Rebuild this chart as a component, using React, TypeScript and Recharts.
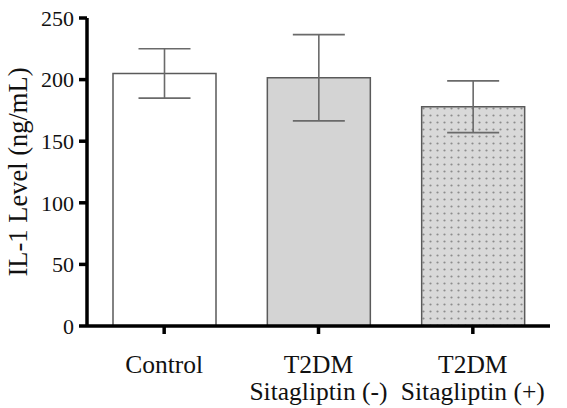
import React from 'react';
import { BarChart, Bar, XAxis, YAxis, ErrorBar, Cell, Label } from 'recharts';

const categories = ['Control', 'T2DM\nSitagliptin (-)', 'T2DM\nSitagliptin (+)'];
const means = [205, 201.5, 178];
const errors = [20, 35, 21];
const yTicks = [0, 50, 100, 150, 200, 250];
const yLabel = 'IL-1 Level (ng/mL)';
const fills = ['#ffffff', '#d4d4d4', 'url(#dots)'];

const data = categories.map((c, i) => ({ name: c, value: means[i], err: errors[i] }));

const FONT = "'Liberation Serif', 'Times New Roman', serif";

const XTick = (props: any) => {
  const { x, y, payload } = props;
  const lines = String(payload.value).split('\n');
  return (
    <text x={x} y={y} textAnchor="middle" style={{ fontFamily: FONT, fontSize: 25.5 }} fill="#111">
      {lines.map((l, i) => (
        <tspan key={i} x={x} dy={i === 0 ? 37 : 27}>{l}</tspan>
      ))}
    </text>
  );
};

const YTick = (props: any) => {
  const { x, y, payload } = props;
  return (
    <text x={x} y={y} textAnchor="end" dy="0.35em" style={{ fontFamily: FONT, fontSize: 22 }} fill="#111">
      {payload.value}
    </text>
  );
};

export default function App() {
  return (
    <div style={{ position: 'absolute', left: 0, top: 0, background: '#fff', fontFamily: FONT }}>
      <BarChart
        width={567}
        height={408}
        data={data}
        margin={{ top: 18, right: 17, bottom: 0, left: 0 }}
        barSize={103}
      >
        <defs>
          <pattern id="dots" width="7" height="7" patternUnits="userSpaceOnUse">
            <rect width="7" height="7" fill="#d9d9d9" />
            <circle cx="3.5" cy="3.5" r="1.1" fill="#8c8c8c" />
          </pattern>
        </defs>
        <XAxis
          dataKey="name"
          height={82}
          interval={0}
          tick={<XTick />}
          tickSize={8}
          tickMargin={2}
          axisLine={{ stroke: '#000', strokeWidth: 3.5 }}
          tickLine={{ stroke: '#000', strokeWidth: 3.5 }}
        />
        <YAxis
          width={87}
          domain={[0, 250]}
          ticks={yTicks}
          interval={0}
          tick={<YTick />}
          tickSize={8}
          tickMargin={5}
          axisLine={{ stroke: '#000', strokeWidth: 3.5 }}
          tickLine={{ stroke: '#000', strokeWidth: 3.5 }}
        >
          <Label
            content={(p: any) => {
              const vb = p.viewBox || { x: 0, y: 18, width: 87, height: 307 };
              const cx = vb.x + 17.5;
              const cy = vb.y + vb.height / 2;
              return (
                <text
                  x={cx}
                  y={cy}
                  transform={`rotate(-90 ${cx} ${cy})`}
                  textAnchor="middle"
                  dominantBaseline="central"
                  style={{ fontFamily: FONT, fontSize: 26.5 }}
                  fill="#111"
                >
                  {yLabel}
                </text>
              );
            }}
          />
        </YAxis>
        <Bar dataKey="value" stroke="#5a5a5a" strokeWidth={1.5} isAnimationActive={false}>
          {data.map((d, i) => (
            <Cell key={i} fill={fills[i]} />
          ))}
          <ErrorBar dataKey="err" width={26} stroke="#6a6a6a" strokeWidth={1.6} direction="y" />
        </Bar>
      </BarChart>
    </div>
  );
}
